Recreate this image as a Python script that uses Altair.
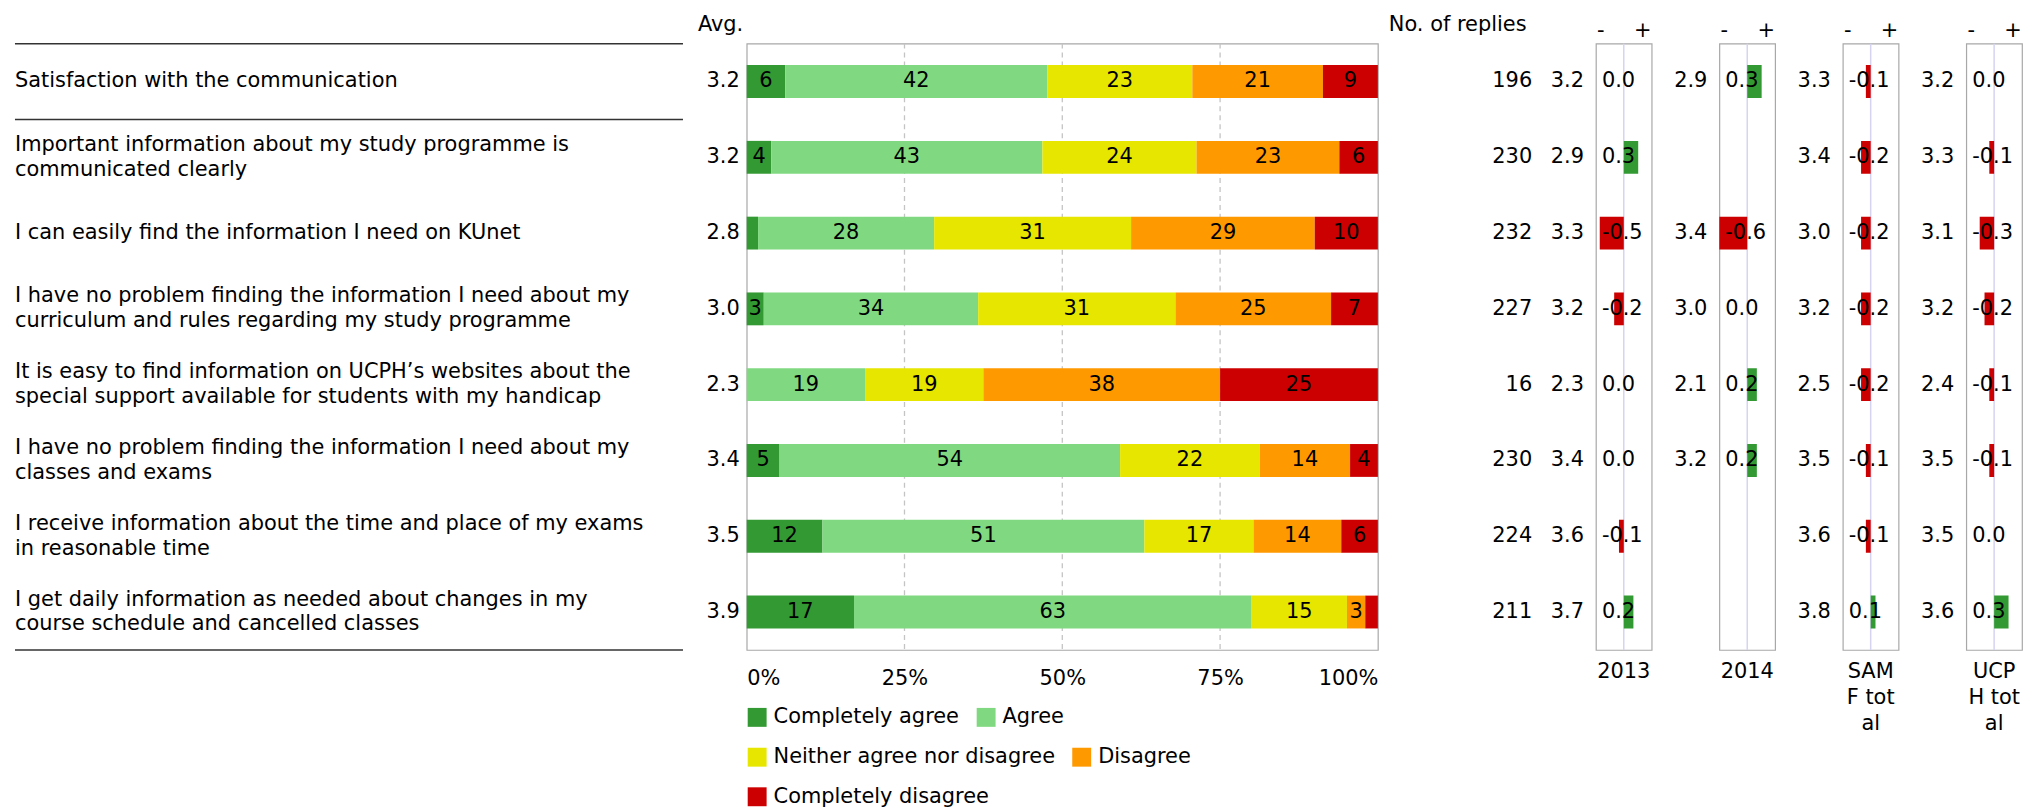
import altair as alt
import pandas as pd

FONT = "DejaVu Sans"
FS = 21
GREEN = "#339933"
RED = "#cc0000"
BORDER = "#a8a8a8"
H = 609

# ---------------- data ----------------
question_ids = ["q1", "q2", "q3", "q4", "q5", "q6", "q7", "q8"]
questions = [
    "Satisfaction with the communication",
    "Important information about my study programme is\ncommunicated clearly",
    "I can easily find the information I need on KUnet",
    "I have no problem finding the information I need about my\ncurriculum and rules regarding my study programme",
    "It is easy to find information on UCPH\u2019s websites about the\nspecial support available for students with my handicap",
    "I have no problem finding the information I need about my\nclasses and exams",
    "I receive information about the time and place of my exams\nin reasonable time",
    "I get daily information as needed about changes in my\ncourse schedule and cancelled classes",
]
avg = [3.2, 3.2, 2.8, 3.0, 2.3, 3.4, 3.5, 3.9]
replies = [196, 230, 232, 227, 16, 230, 224, 211]

categories = ["Completely agree", "Agree", "Neither agree nor disagree",
              "Disagree", "Completely disagree"]
colors = [GREEN, "#80d980", "#e6e600", "#ff9900", RED]
# legend rows (as laid out under the chart)
legend_rows = [[0, 1], [2, 3], [4]]

pct_completely_agree = [6.1, 3.9, 1.8, 2.7, 0.0, 5.2, 12.0, 17.0]
pct_agree = [41.5, 42.9, 27.9, 33.9, 18.75, 53.9, 51.0, 63.0]
pct_neither = [23.0, 24.4, 31.2, 31.2, 18.75, 22.1, 17.3, 15.1]
pct_disagree = [20.7, 22.6, 29.1, 24.6, 37.5, 14.3, 13.9, 2.9]
pct_completely_disagree = [8.7, 6.1, 10.0, 7.4, 25.0, 4.4, 5.8, 2.0]

x_ticks = [0, 0.25, 0.5, 0.75, 1]
grid_ticks = [0.25, 0.5, 0.75]

comparison_labels = ["2013", "2014", "SAM\nF tot\nal", "UCP\nH tot\nal"]
avg_2013 = [3.2, 2.9, 3.3, 3.2, 2.3, 3.4, 3.6, 3.7]
diff_2013 = [0.0, 0.3, -0.5, -0.2, 0.0, 0.0, -0.1, 0.2]
avg_2014 = [2.9, None, 3.4, 3.0, 2.1, 3.2, None, None]
diff_2014 = [0.3, None, -0.6, 0.0, 0.2, 0.2, None, None]
avg_samf = [3.3, 3.4, 3.0, 3.2, 2.5, 3.5, 3.6, 3.8]
diff_samf = [-0.1, -0.2, -0.2, -0.2, -0.2, -0.1, -0.1, 0.1]
avg_ucph = [3.2, 3.3, 3.1, 3.2, 2.4, 3.5, 3.5, 3.6]
diff_ucph = [0.0, -0.1, -0.3, -0.2, -0.1, -0.1, 0.0, 0.3]

comparisons = [(avg_2013, diff_2013), (avg_2014, diff_2014),
               (avg_samf, diff_samf), (avg_ucph, diff_ucph)]

# ---------------- helpers ----------------
yscale = alt.Scale(domain=question_ids, paddingInner=0, paddingOuter=0)


def yenc(**kw):
    return alt.Y("qid:N", scale=yscale, axis=None, **kw)


def txt(**kw):
    base = dict(font=FONT, fontSize=FS, color="black", baseline="middle")
    base.update(kw)
    return base


NOSTROKE = alt.ViewBackground(stroke="transparent")
BOXSTROKE = alt.ViewBackground(stroke=BORDER, strokeWidth=1.2)

qdf = pd.DataFrame({
    "qid": question_ids,
    "question": questions,
    "nlines": [q.count("\n") + 1 for q in questions],
    "avg_txt": [f"{a:.1f}" for a in avg],
    "n": [str(n) for n in replies],
})

# ---------------- panel 1: question labels ----------------
labels1 = alt.Chart(qdf).transform_filter("datum.nlines == 1").mark_text(
    **txt(align="left")).encode(x=alt.value(0), y=yenc(), text="question:N")
labels2 = alt.Chart(qdf).transform_filter("datum.nlines == 2").mark_text(
    **txt(align="left", lineBreak="\n", lineHeight=25, dy=-12.5)).encode(
    x=alt.value(0), y=yenc(), text="question:N")
sep_top = alt.Chart(pd.DataFrame({"qid": question_ids[:2]})).mark_rule(
    color="#333333", strokeWidth=1.5).encode(y=yenc(bandPosition=0))
sep_bot = alt.Chart(pd.DataFrame({"qid": question_ids[-1:]})).mark_rule(
    color="#333333", strokeWidth=1.5).encode(y=yenc(bandPosition=1))
p_labels = alt.layer(labels1, labels2, sep_top, sep_bot).properties(
    width=671, height=H, view=NOSTROKE)

# ---------------- panel 2: averages ----------------
avg_head = alt.Chart(pd.DataFrame({"t": ["Avg."]})).mark_text(**txt(align="left")).encode(
    x=alt.value(15), y=alt.value(-19), text="t:N")
avg_vals = alt.Chart(qdf).mark_text(**txt(align="right")).encode(
    x=alt.value(57), y=yenc(), text="avg_txt:N")
p_avg = alt.layer(avg_head, avg_vals).properties(width=64, height=H, view=NOSTROKE)

# ---------------- panel 3: stacked distribution ----------------
pct_lists = [pct_completely_agree, pct_agree, pct_neither, pct_disagree, pct_completely_disagree]
rows = []
for i, q in enumerate(question_ids):
    for j, c in enumerate(categories):
        v = pct_lists[j][i]
        rows.append({"qid": q, "cat": c, "order": j, "pct": v,
                     "label": f"{int(v + 0.5)}" if v >= 2.5 else ""})
sdf = pd.DataFrame(rows)

xscale = alt.Scale(domain=[0, 1], nice=False, zero=False)
XAXIS = alt.Axis(values=x_ticks, format=".0%", grid=False,
                 domain=False, ticks=False, labelFlush=True, labelPadding=18,
                 labelFontSize=FS, labelFont=FONT, labelColor="black", title=None)

grid = alt.Chart(pd.DataFrame({"g": grid_ticks})).mark_rule(
    color="#c4c4c4", strokeDash=[5, 4], strokeWidth=1.3).encode(
    x=alt.X("g:Q", scale=xscale, axis=XAXIS))

sbase = alt.Chart(sdf).transform_stack(
    stack="pct", groupby=["qid"], sort=[alt.SortField("order")],
    offset="normalize", as_=["x0", "x1"]
).transform_calculate(mid="(datum.x0 + datum.x1) / 2")

legend_y = [666, 706, 746]
seg_layers = []
for r, idx in enumerate(legend_rows):
    cats = [categories[i] for i in idx]
    cols = [colors[i] for i in idx]
    seg_layers.append(
        sbase.transform_filter(alt.FieldOneOfPredicate(field="cat", oneOf=cats)).mark_bar(size=33).encode(
            x=alt.X("x0:Q", scale=xscale, axis=XAXIS),
            x2="x1:Q",
            y=yenc(),
            color=alt.Color("cat:N", scale=alt.Scale(domain=cats, range=cols),
                            legend=alt.Legend(
                                title=None, orient="none", legendX=0, legendY=legend_y[r],
                                direction="horizontal", columnPadding=16,
                                symbolType="square", symbolSize=361, symbolStrokeWidth=0,
                                labelFontSize=FS, labelFont=FONT, labelColor="black",
                                labelOffset=6, labelLimit=600)),
        )
    )
seg_text = sbase.mark_text(**txt(align="center")).encode(
    x=alt.X("mid:Q", scale=xscale, axis=XAXIS), y=yenc(), text="label:N")
p_main = alt.layer(grid, *seg_layers, seg_text).resolve_scale(
    color="independent").resolve_legend(color="independent").properties(
    width=634, height=H, view=BOXSTROKE)

# ---------------- panel 4: number of replies ----------------
n_head = alt.Chart(pd.DataFrame({"t": ["No. of replies"]})).mark_text(**txt(align="left")).encode(
    x=alt.value(11), y=alt.value(-19), text="t:N")
n_vals = alt.Chart(qdf).mark_text(**txt(align="right")).encode(
    x=alt.value(155), y=yenc(), text="n:N")
p_n = alt.layer(n_head, n_vals).properties(width=163, height=H, view=NOSTROKE)

# ---------------- comparison panels ----------------
dscale = alt.Scale(domain=[-0.58, 0.58], nice=False, zero=False)
panels = [p_labels, p_avg, p_main, p_n]
for k, (cavg, cdiff) in enumerate(comparisons):
    cdf = pd.DataFrame({"qid": question_ids, "cavg": cavg, "diff": cdiff}).dropna()
    cdf["avg_txt"] = cdf["cavg"].map(lambda v: f"{v:.1f}")
    cdf["diff_txt"] = cdf["diff"].map(lambda v: f"{v:.1f}")
    w_avg = 56 if k == 0 else 68
    a_vals = alt.Chart(cdf).mark_text(**txt(align="right")).encode(
        x=alt.value(w_avg - 12), y=yenc(), text="avg_txt:N")
    p_a = a_vals.properties(width=w_avg, height=H, view=NOSTROKE)

    center = alt.Chart(pd.DataFrame({"z": [0.0]})).mark_rule(
        color="#d4d4f2", strokeWidth=1.5).encode(x=alt.X("z:Q", scale=dscale, axis=None))
    dbars = alt.Chart(cdf).mark_bar(size=33, clip=True).encode(
        x=alt.X("diff:Q", scale=dscale, axis=None), x2=alt.datum(0), y=yenc(),
        color=alt.condition("datum.diff > 0", alt.value(GREEN), alt.value(RED)))
    dtext = alt.Chart(cdf).mark_text(**txt(align="left")).encode(
        x=alt.value(6), y=yenc(), text="diff_txt:N")
    minus = alt.Chart(pd.DataFrame({"t": ["-"]})).mark_text(**txt(align="center")).encode(
        x=alt.value(5), y=alt.value(-13), text="t:N")
    plus = alt.Chart(pd.DataFrame({"t": ["+"]})).mark_text(**txt(align="center")).encode(
        x=alt.value(47), y=alt.value(-13), text="t:N")
    bottom = alt.Chart(pd.DataFrame({"t": [comparison_labels[k]]})).mark_text(
        **txt(align="center", baseline="top", lineBreak="\n", lineHeight=26)).encode(
        x=alt.value(28), y=alt.value(H + 11), text="t:N")
    p_box = alt.layer(center, dbars, dtext, minus, plus, bottom).properties(
        width=56, height=H, view=BOXSTROKE)
    panels += [p_a, p_box]

chart = alt.hconcat(*panels, spacing=0, bounds="flush").resolve_scale(
    x="independent", y="independent"
).resolve_legend(color="independent").properties(
    padding={"left": 5, "top": 3, "right": 0, "bottom": 0}
).configure_view(stroke="transparent")

chart.save("out.html", embed_options={"renderer": "svg", "actions": False})
